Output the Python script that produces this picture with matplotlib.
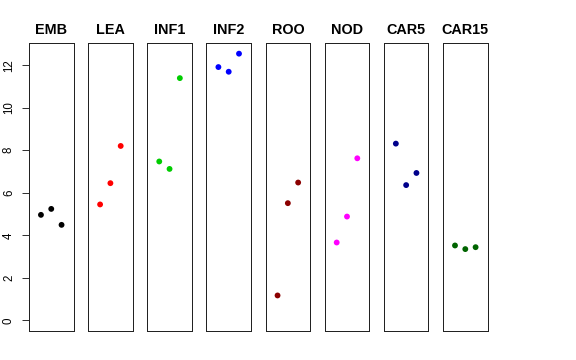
import matplotlib
matplotlib.use("Agg")
import matplotlib.pyplot as plt

plt.rcParams['font.family'] = ['Liberation Sans', 'DejaVu Sans']

tissues = ["EMB", "LEA", "INF1", "INF2", "ROO", "NOD", "CAR5", "CAR15"]
colors = ["#000000", "#FF0000", "#00CD00", "#0000FF",
          "#8B0000", "#FF00FF", "#00008B", "#006400"]
reps = [1, 2, 3]
emb = [4.96, 5.24, 4.49]
lea = [5.45, 6.45, 8.20]
inf1 = [7.47, 7.12, 11.39]
inf2 = [11.91, 11.69, 12.54]
roo = [1.17, 5.51, 6.48]
nod = [3.66, 4.88, 7.62]
car5 = [8.31, 6.36, 6.93]
car15 = [3.52, 3.35, 3.44]
values = [emb, lea, inf1, inf2, roo, nod, car5, car15]
yticks = [0, 2, 4, 6, 8, 10, 12]

W, H = 576, 360
fig = plt.figure(figsize=(W / 72, H / 72), dpi=72)

ymax = max(max(v) for v in values)
left0, step, width = 29, 59.15, 44.5
bottom, top = 331, 43

for i, (name, col, vals) in enumerate(zip(tissues, colors, values)):
    ax = fig.add_axes([(left0 + i * step) / W, (H - bottom) / H,
                       width / W, (bottom - top) / H])
    ax.scatter(reps, vals, s=34, color=col, edgecolors='none', zorder=3)
    ax.set_xlim(-0.16, 4.16)
    ax.set_ylim(-0.04 * ymax, ymax * 1.04)
    ax.set_xticks([])
    for sp in ax.spines.values():
        sp.set_linewidth(1)
        sp.set_color("#222222")
    ax.set_title(name, fontsize=14.4, fontweight='bold', pad=9)
    if i == 0:
        ax.set_yticks(yticks)
        ax.set_yticklabels([str(t) for t in yticks], rotation=90,
                           va='center', fontsize=11.5)
        ax.tick_params(axis='y', length=7, width=0.8, pad=7)
    else:
        ax.set_yticks([])

fig.savefig("out.png", dpi=72)
